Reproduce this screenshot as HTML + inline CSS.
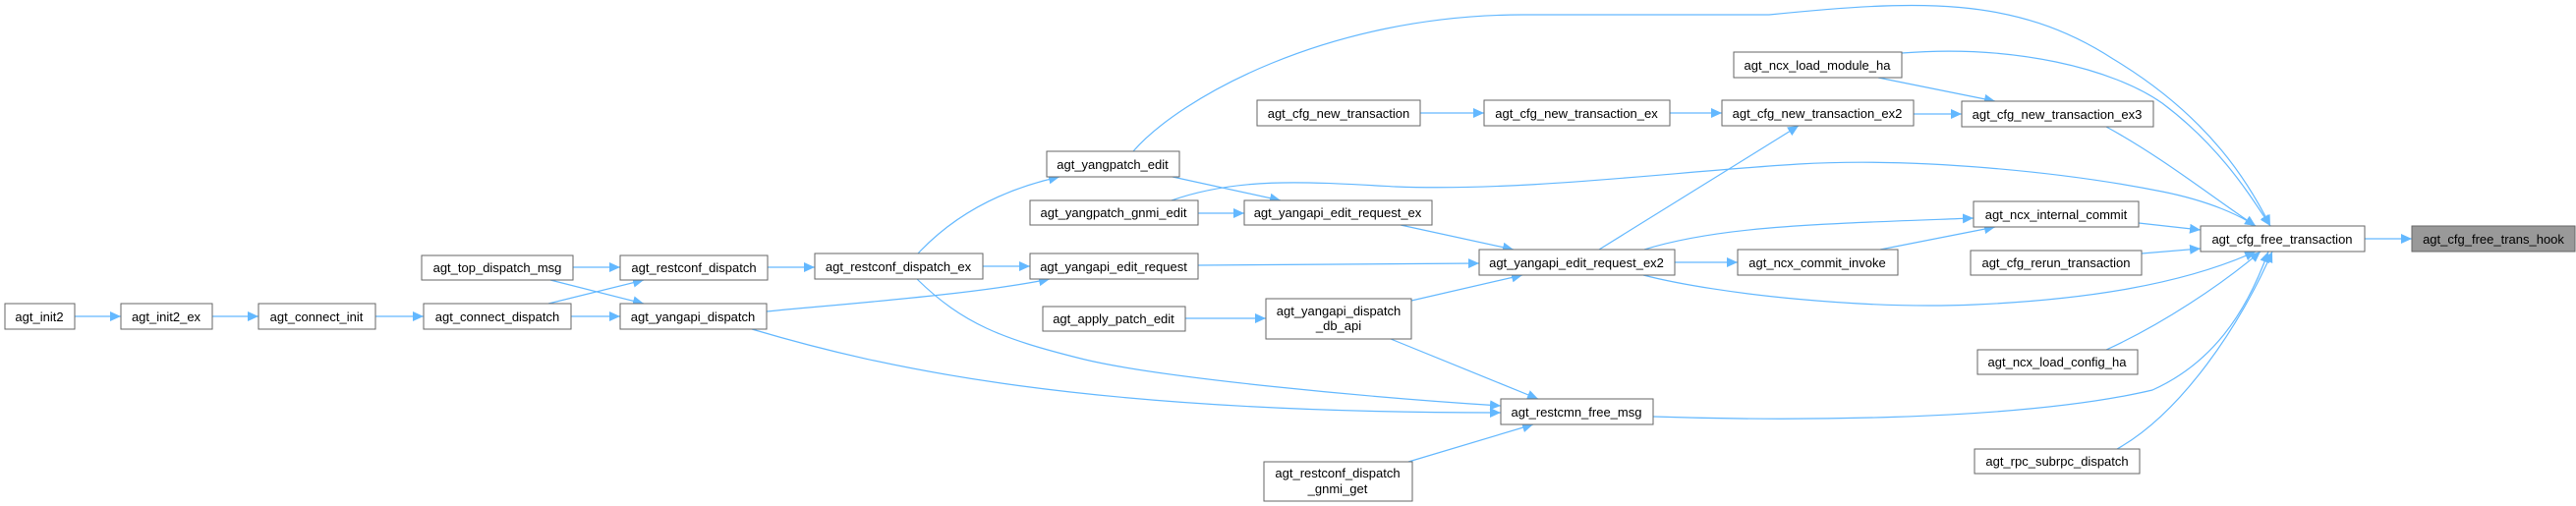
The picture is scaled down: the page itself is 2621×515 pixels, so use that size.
<!DOCTYPE html>
<html><head><meta charset="utf-8"><style>
html,body{margin:0;padding:0;background:#fff}
svg{display:block}
text{font-family:"Liberation Sans",Arial,sans-serif;font-size:13px;fill:#000;text-anchor:middle}
.b{fill:#fff;stroke:#666;stroke-width:1}
.e{fill:none;stroke:#63b8ff;stroke-width:1.2}
</style></head><body>
<svg width="2621" height="515" viewBox="0 0 2621 515" xmlns="http://www.w3.org/2000/svg">
<defs><marker id="a" markerUnits="userSpaceOnUse" markerWidth="12" markerHeight="10" refX="11" refY="5" orient="auto"><path d="M0,0L11,5L0,10z" fill="#63b8ff"/></marker></defs>
<g class="e" marker-end="url(#a)">
<path d="M76,322H123"/><path d="M216,322H263"/><path d="M382,322H431"/><path d="M581,322H631"/>
<path d="M558,309L655,285"/><path d="M583,272H631"/><path d="M560,285L655,309"/><path d="M781,272H829"/>
<path d="M780,317C850,310 990,300 1068,284"/>
<path d="M765,335C900,375 1100,420 1527,420"/>
<path d="M934,258C965,225 1010,195 1078,180"/>
<path d="M1000,271H1048"/>
<path d="M933,284C980,330 1020,345 1100,365S1400,405 1527,413"/>
<path d="M1153,154C1200,100 1350,15 1550,15L1800,15C1950,0 2050,-5 2150,60C2250,120 2290,190 2310,230"/>
<path d="M1193,180L1303,204"/><path d="M1219,217H1266"/>
<path d="M1192,204C1260,180 1330,185 1420,190C1550,195 1700,175 1830,167C1950,160 2100,175 2200,195C2250,205 2280,220 2295,230"/>
<path d="M1425,229L1540,254"/><path d="M1219,270L1505,268"/><path d="M1206,324H1288"/>
<path d="M1436,306L1549,280"/><path d="M1415,345L1565,406"/><path d="M1433,470L1560,432"/>
<path d="M1445,115H1510"/><path d="M1699,115H1752"/><path d="M1947,116H1996"/>
<path d="M1627,254L1830,128"/><path d="M1704,267H1768"/>
<path d="M1673,254C1750,230 1850,228 2008,222"/>
<path d="M1672,280C1750,300 1900,315 2010,310C2120,305 2220,290 2295,256"/>
<path d="M1913,254L2030,231"/><path d="M1911,79L2030,103"/>
<path d="M1935,54C2050,45 2150,70 2200,105C2260,150 2290,200 2310,230"/>
<path d="M2143,129C2200,160 2250,200 2295,230"/>
<path d="M2176,227L2239,234"/><path d="M2179,258L2239,253"/>
<path d="M2143,356C2200,330 2260,290 2300,256"/>
<path d="M2154,457C2220,420 2280,330 2312,256"/>
<path d="M1682,424C1800,428 2050,430 2190,397C2250,370 2285,320 2308,256"/>
<path d="M2406,243H2454"/>
</g>
<g>
<rect class="b" x="5" y="309" width="71" height="26"/><text x="40" y="327">agt_init2</text>
<rect class="b" x="123" y="309" width="93" height="26"/><text x="169" y="327">agt_init2_ex</text>
<rect class="b" x="263" y="309" width="119" height="26"/><text x="322" y="327">agt_connect_init</text>
<rect class="b" x="431" y="309" width="150" height="26"/><text x="506" y="327">agt_connect_dispatch</text>
<rect class="b" x="429" y="260" width="154" height="25"/><text x="506" y="277">agt_top_dispatch_msg</text>
<rect class="b" x="631" y="260" width="150" height="25"/><text x="706" y="277">agt_restconf_dispatch</text>
<rect class="b" x="631" y="309" width="149" height="26"/><text x="705" y="327">agt_yangapi_dispatch</text>
<rect class="b" x="829" y="258" width="171" height="26"/><text x="914" y="276">agt_restconf_dispatch_ex</text>
<rect class="b" x="1065" y="154" width="135" height="26"/><text x="1132" y="172">agt_yangpatch_edit</text>
<rect class="b" x="1048" y="204" width="171" height="25"/><text x="1133" y="221">agt_yangpatch_gnmi_edit</text>
<rect class="b" x="1266" y="204" width="191" height="25"/><text x="1361" y="221">agt_yangapi_edit_request_ex</text>
<rect class="b" x="1048" y="258" width="171" height="26"/><text x="1133" y="276">agt_yangapi_edit_request</text>
<rect class="b" x="1061" y="312" width="145" height="25"/><text x="1133" y="329">agt_apply_patch_edit</text>
<rect class="b" x="1288" y="304" width="148" height="41"/><text x="1362" y="321">agt_yangapi_dispatch</text><text x="1362" y="336">_db_api</text>
<rect class="b" x="1279" y="102" width="166" height="26"/><text x="1362" y="120">agt_cfg_new_transaction</text>
<rect class="b" x="1510" y="102" width="189" height="26"/><text x="1604" y="120">agt_cfg_new_transaction_ex</text>
<rect class="b" x="1505" y="254" width="199" height="26"/><text x="1604" y="272">agt_yangapi_edit_request_ex2</text>
<rect class="b" x="1527" y="406" width="155" height="26"/><text x="1604" y="424">agt_restcmn_free_msg</text>
<rect class="b" x="1286" y="470" width="151" height="40"/><text x="1361" y="486">agt_restconf_dispatch</text><text x="1361" y="502">_gnmi_get</text>
<rect class="b" x="1764" y="53" width="171" height="26"/><text x="1849" y="71">agt_ncx_load_module_ha</text>
<rect class="b" x="1752" y="102" width="195" height="26"/><text x="1849" y="120">agt_cfg_new_transaction_ex2</text>
<rect class="b" x="1768" y="254" width="163" height="26"/><text x="1849" y="272">agt_ncx_commit_invoke</text>
<rect class="b" x="1996" y="103" width="195" height="26"/><text x="2093" y="121">agt_cfg_new_transaction_ex3</text>
<rect class="b" x="2008" y="205" width="168" height="26"/><text x="2092" y="223">agt_ncx_internal_commit</text>
<rect class="b" x="2005" y="255" width="174" height="25"/><text x="2092" y="272">agt_cfg_rerun_transaction</text>
<rect class="b" x="2239" y="230" width="167" height="26"/><text x="2322" y="248">agt_cfg_free_transaction</text>
<rect x="2454" y="230" width="166" height="26" fill="#999" stroke="#666"/><text x="2537" y="248">agt_cfg_free_trans_hook</text>
<rect class="b" x="2012" y="356" width="163" height="25"/><text x="2093" y="373">agt_ncx_load_config_ha</text>
<rect class="b" x="2009" y="457" width="168" height="25"/><text x="2093" y="474">agt_rpc_subrpc_dispatch</text>
</g>
</svg>
</body></html>
